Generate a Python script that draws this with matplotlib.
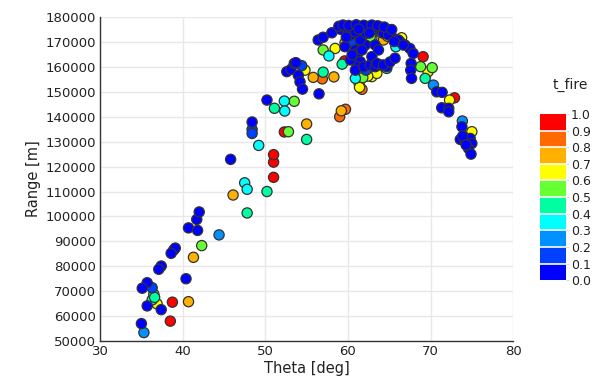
"""
Scatter of range vs launch angle, coloured by t_fire (discrete colour bins)
"""
import numpy as np
import matplotlib
matplotlib.use("Agg")
from matplotlib import pyplot as plt
from matplotlib.colors import ListedColormap, BoundaryNorm

# (theta [deg], range [m], t_fire)
# lower / left branch
theta_left = [35.3, 35.0, 38.5, 37.4, 35.7, 36.9, 36.3, 36.5, 36.6, 38.75, 40.7,
              35.7, 35.1, 36.3, 40.4, 37.4, 37.1, 41.3, 38.9, 39.1, 38.6, 42.3,
              44.4, 40.7, 41.8, 41.7, 42.0, 47.8, 46.1, 47.5, 47.8, 50.2, 45.8,
              51.0, 51.0, 51.0, 49.2, 48.4, 48.4, 48.4, 52.3, 52.8, 55.0, 55.0,
              50.2, 51.1, 52.3, 52.35, 53.5, 56.5, 59.2, 59.7, 59.0]
range_left = [53400, 57000, 58000, 62600, 64100, 64900, 66500, 68800, 67500, 65600, 65800,
              73400, 71200, 71400, 75000, 80100, 78800, 83600, 86500, 87300, 85200, 88300,
              92600, 95400, 94400, 98800, 101800, 101400, 108600, 113500, 110900, 110000, 122900,
              115700, 121800, 124800, 128500, 137900, 134900, 133300, 133900, 134000, 137100, 130900,
              146700, 143400, 146300, 142300, 146200, 149200, 142400, 143000, 140000]
tfire_left = [0.25, 0.05, 0.95, 0.05, 0.05, 0.65, 0.45, 0.45, 0.4, 0.95, 0.75,
              0.05, 0.05, 0.15, 0.05, 0.05, 0.05, 0.75, 0.05, 0.05, 0.05, 0.55,
              0.25, 0.05, 0.05, 0.05, 0.05, 0.45, 0.75, 0.35, 0.35, 0.45, 0.05,
              0.95, 0.95, 0.95, 0.35, 0.05, 0.15, 0.15, 0.95, 0.55, 0.75, 0.45,
              0.05, 0.45, 0.35, 0.35, 0.55, 0.05, 0.75, 0.85, 0.85]

# upper branch, around the peak
theta_top = [52.6, 53.1, 53.5, 53.7, 54.4, 54.8, 54.0, 54.2, 54.5, 57.0, 55.8, 56.9, 58.3,
             56.4, 57.0, 58.05, 57.0, 58.45, 57.7, 59.6, 59.3, 59.65, 59.65,
             59.1, 59.9, 60.6, 61.5, 62.1, 62.7, 63.3, 63.9, 64.7, 65.5, 66.3, 66.9,
             67.5, 67.9, 63.1, 64.3, 64.9, 66.1, 66.7,
             64.1, 65.1, 66.5, 64.3, 62.9, 65.8, 63.9, 62.8, 60.5, 61.8, 62.3, 62.7, 66.0,
             60.9, 61.2, 61.5, 61.1, 60.9, 61.9, 62.7, 63.3, 63.9, 64.7, 60.3, 60.5,
             62.1, 61.5, 60.3, 60.9, 62.2, 59.8, 60.5, 61.7, 63.3, 63.7, 62.9, 63.5,
             64.3, 65.1, 65.7, 58.9, 59.4, 60.1, 61.0, 61.9, 62.9, 63.6, 64.4, 65.3,
             64.7, 60.9, 61.8, 62.9, 61.35, 61.4, 61.7, 63.5, 62.4, 62.2,
             60.0, 60.7, 61.3, 62.0, 62.6, 63.2, 64.0, 64.8, 65.6]
range_top = [158100, 159000, 161400, 161700, 160500, 158700, 156600, 154000, 151100, 157900,
             155800, 155200, 156000,
             170800, 171900, 173700, 166800, 167400, 164400, 162400, 161100, 169700, 168100,
             175100, 175600, 176000, 176000, 176400, 175900, 175600, 174800, 173500, 171500,
             170100, 168800, 167400, 165400, 175500, 173500, 172800, 170800, 168800,
             175500, 174800, 171700, 170800, 171600, 168100, 176000, 172500, 170100, 171600,
             174800, 172100, 169600,
             166800, 165600, 162100, 160100, 158700, 160100, 160800, 160100, 160800, 160100,
             162800, 164800, 168800, 170800, 172800, 174000, 173500, 172000, 170000, 166800,
             168800, 166800, 164100, 161400, 160800, 162000, 163500,
             176300, 176800, 176600, 176900, 176700, 176800, 176500, 176000, 175000,
             159400, 155400, 155700, 156100, 153400, 151800, 151000, 157400, 156300, 158700,
             174300, 173300, 175200, 174000, 173600, 174300, 173900, 172300, 170200]
tfire_top = [0.05, 0.05, 0.05, 0.05, 0.15, 0.65, 0.05, 0.05, 0.05, 0.45, 0.75, 0.85, 0.75,
             0.05, 0.05, 0.05, 0.55, 0.65, 0.35, 0.95, 0.45, 0.75, 0.05,
             0.05, 0.05, 0.05, 0.05, 0.05, 0.05, 0.05, 0.05, 0.05, 0.05, 0.05, 0.05,
             0.05, 0.05, 0.05, 0.05, 0.05, 0.05, 0.05,
             0.95, 0.65, 0.65, 0.75, 0.55, 0.35, 0.95, 0.95, 0.75, 0.95, 0.95, 0.55, 0.55,
             0.05, 0.05, 0.05, 0.05, 0.05, 0.05, 0.05, 0.05, 0.05, 0.05, 0.05, 0.05,
             0.05, 0.05, 0.05, 0.05, 0.05, 0.05, 0.15, 0.05, 0.05, 0.05, 0.05, 0.05,
             0.05, 0.05, 0.05, 0.05, 0.05, 0.05, 0.05, 0.05, 0.05, 0.05, 0.05, 0.05,
             0.35, 0.35, 0.55, 0.65, 0.65, 0.65, 0.85, 0.65, 0.65, 0.15,
             0.65, 0.95, 0.05, 0.45, 0.05, 0.75, 0.35, 0.65, 0.05]

# right / descending branch
theta_right = [69.1, 68.8, 70.2, 69.7, 69.35, 67.65, 67.6, 67.7, 70.35, 70.75, 71.4,
               72.3, 72.9, 71.35, 72.2, 72.2, 73.85, 73.8, 75.0, 73.6, 74.2, 74.8,
               75.0, 74.6, 74.9, 73.9, 74.3]
range_right = [164100, 160100, 159700, 158100, 155400, 161400, 158700, 155400, 152700,
               150000, 149800, 146700, 147600, 143600, 143400, 142000, 138300, 136000,
               134000, 130900, 130000, 131300, 129300, 127300, 125000, 132300, 128700]
tfire_right = [0.95, 0.55, 0.55, 0.65, 0.45, 0.05, 0.05, 0.05, 0.25, 0.05, 0.05,
               0.65, 0.95, 0.05, 0.05, 0.05, 0.25, 0.05, 0.65, 0.05, 0.05, 0.05,
               0.05, 0.05, 0.05, 0.05, 0.05]

BIN_COLOURS = ["#0000ff", "#0040ff", "#0090ff", "#00ffff", "#00ffa0",
               "#66ff33", "#ffff00", "#ffb000", "#ff6a00", "#ff0000"]
BOUNDS = np.linspace(0.0, 1.0, 11)

theta = np.array(theta_left + theta_top + theta_right)
rng = np.array(range_left + range_top + range_right)
tfire = np.array(tfire_left + tfire_top + tfire_right)

# blue (early) points end up on top, like in the original
order = np.argsort(-tfire, kind="stable")
theta, rng, tfire = theta[order], rng[order], tfire[order]

cmap = ListedColormap(BIN_COLOURS)
norm = BoundaryNorm(BOUNDS, cmap.N)

plt.rcParams["font.family"] = ["DejaVu Sans"]
fig = plt.figure(figsize=(6.03, 3.88), dpi=100)
ax = fig.add_axes([0.166, 0.121, 0.685, 0.835])

sc = ax.scatter(theta, rng, c=tfire, cmap=cmap, norm=norm, s=54,
                edgecolors="#333333", linewidths=0.9, zorder=3)

ax.set_xlim(30, 80)
ax.set_ylim(50000, 180000)
ax.set_xticks(np.arange(30, 81, 10))
ax.set_yticks(np.arange(50000, 180001, 10000))
ax.grid(True, color="#e8e8e8", linewidth=1.0, zorder=0)
ax.tick_params(length=0, labelsize=9.5, pad=3, colors="#222222")
for side in ("top", "right"):
    ax.spines[side].set_visible(False)
for side in ("left", "bottom"):
    ax.spines[side].set_color("#333333")
    ax.spines[side].set_linewidth(1.0)
ax.set_xlabel("Theta [deg]", fontsize=10.5, labelpad=2, color="#222222")
ax.set_ylabel("Range [m]", fontsize=10.5, labelpad=3, color="#222222")

# colour bar
cax = fig.add_axes([0.895, 0.278, 0.043, 0.428])
cb = fig.colorbar(sc, cax=cax, boundaries=BOUNDS, ticks=BOUNDS, drawedges=True)
cb.outline.set_visible(False)
cb.dividers.set_color("white")
cb.dividers.set_linewidth(1.2)
cb.ax.set_yticklabels([f"{v:.1f}" for v in BOUNDS])
cb.ax.tick_params(length=2, color="#dddddd", labelsize=9, pad=2, labelcolor="#222222")
fig.text(0.945, 0.762, "t_fire", ha="center", va="bottom", fontsize=10, color="#222222")

fig.savefig("out.png", dpi=100)
